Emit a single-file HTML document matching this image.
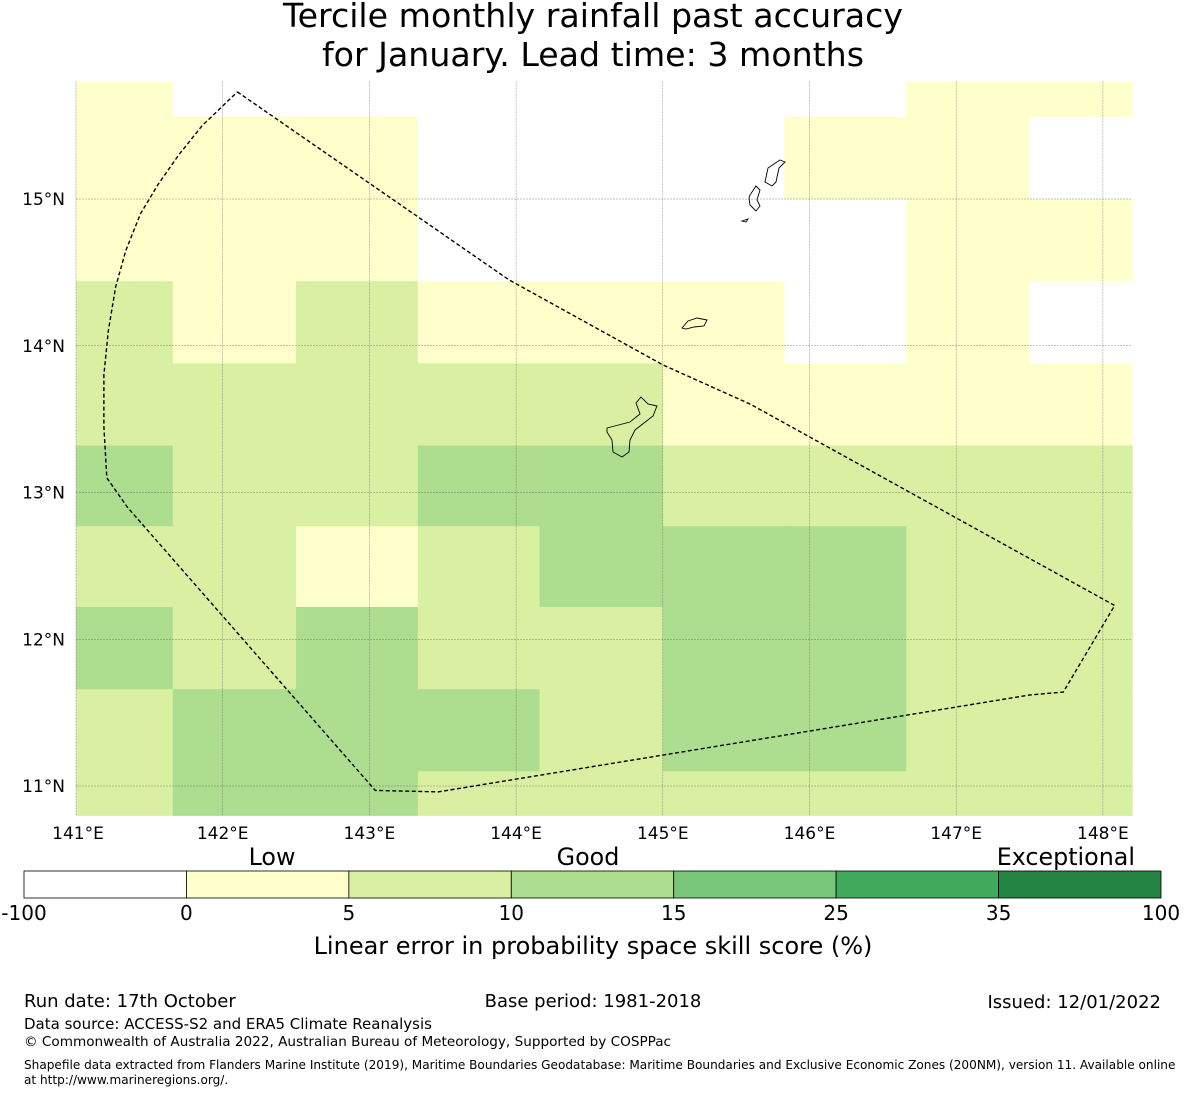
<!DOCTYPE html>
<html><head><meta charset="utf-8"><style>
body{margin:0;background:#fff;}
svg{display:block;font-family:"DejaVu Sans","Liberation Sans",sans-serif;}
</style></head><body>
<svg id="chart" width="1185" height="1095" viewBox="0 0 1185 1095" xmlns="http://www.w3.org/2000/svg">
<text x="593" y="27" font-size="33.2" text-anchor="middle">Tercile monthly rainfall past accuracy</text>
<text x="593" y="66" font-size="33.2" text-anchor="middle">for January. Lead time: 3 months</text>
<g id="map"></g>
<g id="cbar"></g>
<text x="593" y="954" font-size="24" text-anchor="middle">Linear error in probability space skill score (%)</text>
<text x="24" y="1007" font-size="18">Run date: 17th October</text>
<text x="593" y="1007" font-size="18" text-anchor="middle">Base period: 1981-2018</text>
<text x="1161" y="1008" font-size="18" text-anchor="end">Issued: 12/01/2022</text>
<text x="24" y="1029" font-size="15">Data source: ACCESS-S2 and ERA5 Climate Reanalysis</text>
<text x="24" y="1046" font-size="13.6">© Commonwealth of Australia 2022, Australian Bureau of Meteorology, Supported by COSPPac</text>
<text x="24" y="1069" font-size="12.1">Shapefile data extracted from Flanders Marine Institute (2019), Maritime Boundaries Geodatabase: Maritime Boundaries and Exclusive Economic Zones (200NM), version 11. Available online</text>
<text x="24" y="1084" font-size="12.1">at http://www.marineregions.org/.</text>
</svg>
<script>
// ---- data ----
const lonTicks = [141,142,143,144,145,146,147,148];
const latTicks = [15,14,13,12,11];
const colEdges = [141.0,141.66,142.5,143.33,144.16,145.0,145.83,146.66,147.5,148.2];
const rowEdges = [15.8,15.56,15.0,14.44,13.88,13.32,12.77,12.22,11.66,11.1,10.8];
const skillRow0 = [2,-5,-5,-5,-5,-5,-5,2,2];
const skillRow1 = [2,2,2,-5,-5,-5,2,2,-5];
const skillRow2 = [2,2,2,-5,-5,-5,-5,2,2];
const skillRow3 = [7,2,7,2,2,2,-5,2,-5];
const skillRow4 = [7,7,7,7,7,2,2,2,2];
const skillRow5 = [12,7,7,12,12,7,7,7,7];
const skillRow6 = [7,7,2,7,12,12,12,7,7];
const skillRow7 = [12,7,12,7,7,12,12,7,7];
const skillRow8 = [7,12,12,12,7,12,12,7,7];
const skillRow9 = [7,12,12,7,7,7,7,7,7];
const skillGrid = [skillRow0,skillRow1,skillRow2,skillRow3,skillRow4,skillRow5,skillRow6,skillRow7,skillRow8,skillRow9];
const binEdges = [-100,0,5,10,15,25,35,100];
const binColors = ["#ffffff","#ffffcc","#d9f0a3","#addd8e","#78c679","#41ab5d","#238443"];
const eezLon = [142.1,143.95,145.0,145.6,148.08,147.73,147.5,143.47,143.04,141.35,141.21,141.19,141.19,141.22,141.27,141.34,141.44,141.56,141.7,141.86,142.1];
const eezLat = [15.73,14.45,13.87,13.6,12.23,11.64,11.62,10.96,10.97,12.9,13.1,13.45,13.8,14.1,14.4,14.65,14.9,15.1,15.3,15.5,15.73];

// ---- axes ----
const X0=76, LON0=141.0, PXD=146.7, Y0=199, LAT0=15.0, PYD=146.75;
const xs = lon => X0 + (lon-LON0)*PXD;
const ys = lat => Y0 + (LAT0-lat)*PYD;
const NS="http://www.w3.org/2000/svg";
function mk(tag, attrs, parent){const e=document.createElementNS(NS,tag);for(const k in attrs)e.setAttribute(k,attrs[k]);parent.appendChild(e);return e;}
function colorFor(v){for(let i=0;i<binColors.length;i++){if(v<binEdges[i+1])return binColors[i];}return binColors[binColors.length-1];}

const map=document.getElementById('map');
for(let r=0;r<skillGrid.length;r++){
  for(let c=0;c<skillGrid[r].length;c++){
    const x1=xs(colEdges[c]),x2=xs(colEdges[c+1]),y1=ys(rowEdges[r]),y2=ys(rowEdges[r+1]);
    const rect=mk('rect',{x:x1,y:y1,width:x2-x1+0.5,height:y2-y1+0.5,fill:colorFor(skillGrid[r][c])},map);
    
    
  }
}
const mTop=ys(15.8), mBot=ys(10.8), mLeft=xs(141.0), mRight=xs(148.2);
lonTicks.forEach(l=>{
  const x=xs(l);
  if(l>141){const g=mk('line',{x1:x,x2:x,y1:mTop,y2:mBot,stroke:'#555','stroke-width':0.5,'stroke-dasharray':'2,1','opacity':0.7},map);
  }
  const t=mk('text',{x:l===141?78:x,y:839,'font-size':17,'text-anchor':'middle'},map);
  t.textContent=l+'°E';
  
});
latTicks.forEach(l=>{
  const y=ys(l);
  const g=mk('line',{x1:mLeft,x2:mRight,y1:y,y2:y,stroke:'#555','stroke-width':0.5,'stroke-dasharray':'2,1','opacity':0.7},map);
  
  const t=mk('text',{x:65,y:y+6,'font-size':17,'text-anchor':'end'},map);
  t.textContent=l+'°N';
  
});
const el=mk('line',{x1:mLeft,x2:mLeft,y1:mTop,y2:mBot,stroke:'#555','stroke-width':0.5,'stroke-dasharray':'2,1',opacity:0.7},map);


const islands=[
 "M607,428 L630,422 L640,414 L636,403 L641,397 L648,404 L657,406 L653,416 L635,430 L630,440 L629,452 L622,457 L613,452 L612,440 L607,432 Z",
 "M682,328 L688,321 L697,318 L707,320 L704,326 L694,327 L686,329 Z",
 "M765,182 L768,168 L780,160 L785,162 L779,168 L776,182 L772,186 Z",
 "M750,195 L756,186 L760,190 L757,200 L760,206 L756,211 L750,205 L749,198 Z",
 "M742,221 L748,219 L746,222 Z"
];
islands.forEach(d=>{const p=mk('path',{d:d,fill:'none',stroke:'#000','stroke-width':0.9},map);
});

let pts=eezLon.map((lo,i)=>xs(lo)+','+ys(eezLat[i])).join(' ');
const eez=mk('polyline',{points:pts,fill:'none',stroke:'#000','stroke-width':1.4,'stroke-dasharray':'4,2.5'},map);


const cb=document.getElementById('cbar');
const cbX=24, cbW=1137, cbY=871, cbH=27, segW=cbW/binColors.length;
binColors.forEach((c,i)=>{const r=mk('rect',{x:cbX+i*segW,y:cbY,width:segW,height:cbH,fill:c,stroke:'#000','stroke-width':0.8},cb);
});
binEdges.forEach((v,i)=>{const t=mk('text',{x:cbX+i*segW,y:920,'font-size':20,'text-anchor':'middle'},cb);t.textContent=v;
});
[["Low",272,'middle'],["Good",588,'middle'],["Exceptional",1135,'end']].forEach(a=>{
 const t=mk('text',{x:a[1],y:865,'font-size':23.8,'text-anchor':a[2]},cb);t.textContent=a[0];
 });
</script>
</body></html>
